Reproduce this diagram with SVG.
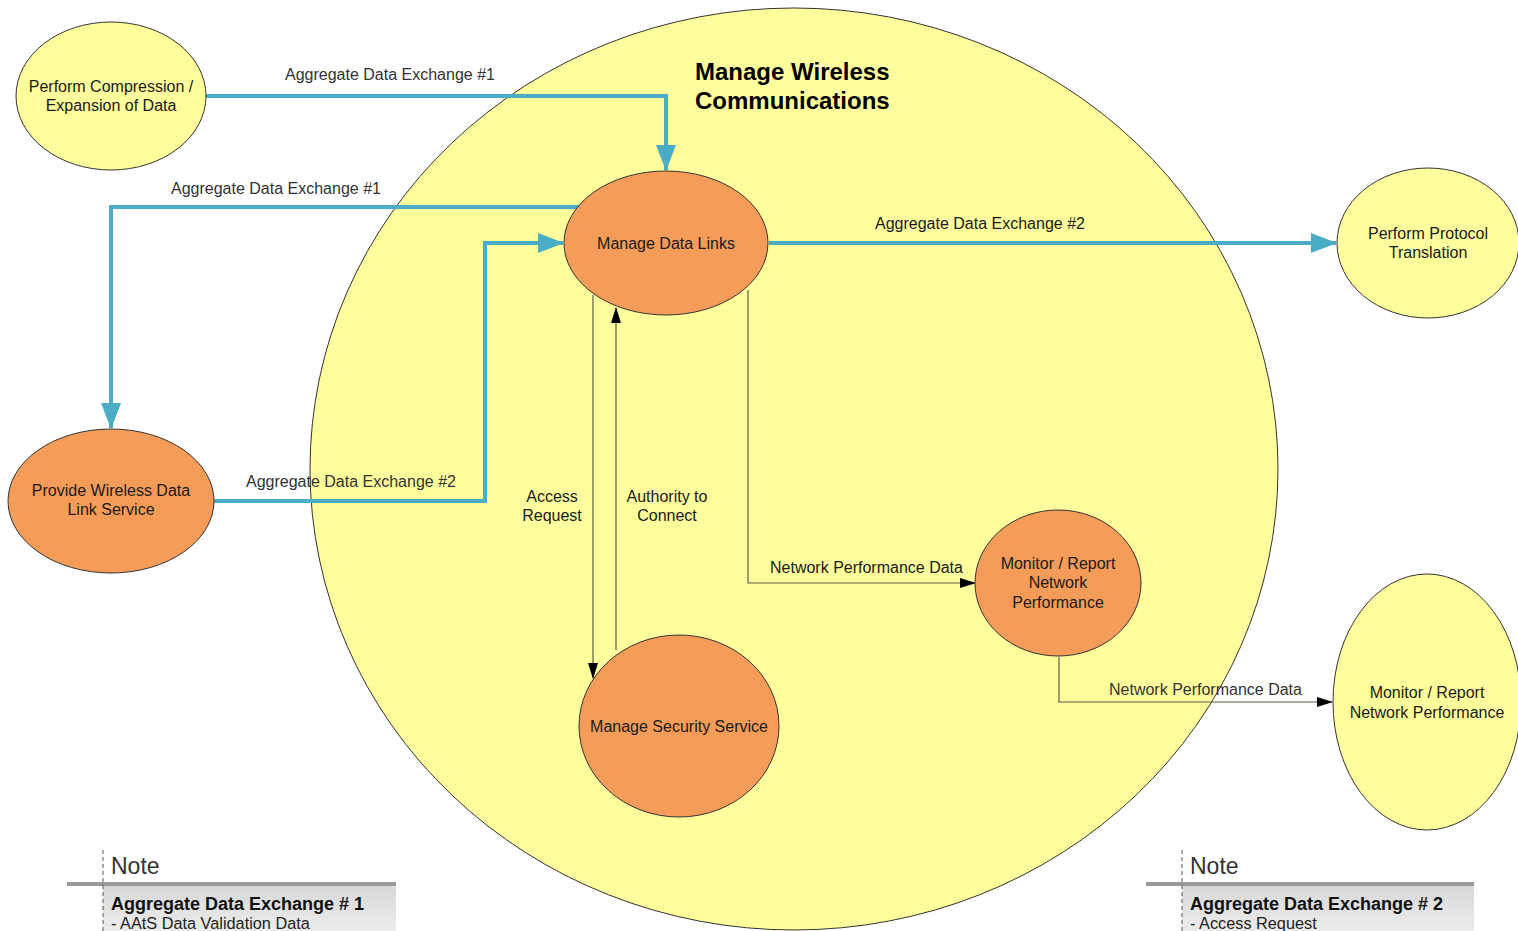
<svg xmlns="http://www.w3.org/2000/svg" width="1518" height="931" viewBox="0 0 1518 931">
<style>
text{font-family:"Liberation Sans",Arial,sans-serif;fill:#1a1a1a}
.y{fill:#FFFE9C;stroke:#333;stroke-width:1}
.o{fill:#F59C59;stroke:#333;stroke-width:1}
.n{font-size:16px;text-anchor:middle}
.lbl{font-size:16px;fill:#333}
.lbl2{font-size:16px}
.blue{fill:none;stroke:#4BACC6;stroke-width:4}
.thin{fill:none;stroke:#5c5c4a;stroke-width:1.2}
.title{font-size:24px;font-weight:bold;fill:#000}
</style>
<defs>
<marker id="ab" markerUnits="userSpaceOnUse" markerWidth="26" markerHeight="20" refX="25" refY="10" orient="auto"><path d="M0,0 L26,10 L0,20 Z" fill="#4BACC6"/></marker>
<marker id="ak" markerUnits="userSpaceOnUse" markerWidth="16" markerHeight="10" refX="15" refY="5" orient="auto"><path d="M0,0 L16,5 L0,10 Z" fill="#000"/></marker>
<linearGradient id="ng" x1="0" y1="0" x2="0" y2="1"><stop offset="0" stop-color="#d8d8d8"/><stop offset="1" stop-color="#ececec"/></linearGradient>
</defs>
<rect width="1518" height="931" fill="#fff"/>
<g id="mwc">
<ellipse class="y" cx="794" cy="469" rx="484" ry="461"/>
<text class="title" x="695" y="80">Manage Wireless</text>
<text class="title" x="695" y="109">Communications</text>
</g>
<g id="connectors">
<polyline class="blue" points="206,96 666,96 666,170" marker-end="url(#ab)"/>
<text class="lbl" x="285" y="80">Aggregate Data Exchange #1</text>
<polyline class="blue" points="581,207 111,207 111,428" marker-end="url(#ab)"/>
<text class="lbl" x="171" y="194">Aggregate Data Exchange #1</text>
<polyline class="blue" points="214,501 485,501 485,243 563,243" marker-end="url(#ab)"/>
<text class="lbl" x="246" y="487">Aggregate Data Exchange #2</text>
<polyline class="blue" points="769,243 1336,243" marker-end="url(#ab)"/>
<text class="lbl2" x="875" y="229">Aggregate Data Exchange #2</text>
<polyline class="thin" points="593,295 593,678" marker-end="url(#ak)"/>
<text class="n" x="552" y="502">Access</text>
<text class="n" x="552" y="521">Request</text>
<polyline class="thin" points="616,650 616,308" marker-end="url(#ak)"/>
<text class="n" x="667" y="502">Authority to</text>
<text class="n" x="667" y="521">Connect</text>
<polyline class="thin" points="748,290 748,583 975,583" marker-end="url(#ak)"/>
<text class="lbl2" x="770" y="573">Network Performance Data</text>
<polyline class="thin" points="1059,657 1059,702 1332,702" marker-end="url(#ak)"/>
<text class="lbl" x="1109" y="695">Network Performance Data</text>
</g>
<g id="compression">
<ellipse class="y" cx="111" cy="96" rx="95" ry="74"/>
<text class="n" x="111" y="92">Perform Compression /</text>
<text class="n" x="111" y="111">Expansion of Data</text>
</g>
<g id="datalinks">
<ellipse class="o" cx="666" cy="243" rx="102" ry="72"/>
<text class="n" x="666" y="249">Manage Data Links</text>
</g>
<g id="protocol">
<ellipse class="y" cx="1428" cy="243" rx="91" ry="75"/>
<text class="n" x="1428" y="239">Perform Protocol</text>
<text class="n" x="1428" y="258">Translation</text>
</g>
<g id="wireless">
<ellipse class="o" cx="111" cy="501" rx="103" ry="72"/>
<text class="n" x="111" y="496">Provide Wireless Data</text>
<text class="n" x="111" y="515">Link Service</text>
</g>
<g id="monitor1">
<ellipse class="o" cx="1058" cy="583" rx="83" ry="73"/>
<text class="n" x="1058" y="569">Monitor / Report</text>
<text class="n" x="1058" y="588">Network</text>
<text class="n" x="1058" y="608">Performance</text>
</g>
<g id="security">
<ellipse class="o" cx="679" cy="726" rx="100" ry="91"/>
<text class="n" x="679" y="732">Manage Security Service</text>
</g>
<g id="monitor2">
<ellipse class="y" cx="1427" cy="702" rx="94" ry="128"/>
<text class="n" x="1427" y="698">Monitor / Report</text>
<text class="n" x="1427" y="718">Network Performance</text>
</g>
<g id="note1">
<rect x="103" y="886" width="293" height="45" fill="url(#ng)"/>
<rect x="67" y="882" width="329" height="4" fill="#999"/>
<line x1="103" y1="850" x2="103" y2="931" stroke="#555" stroke-width="1" stroke-dasharray="4,3"/>
<text x="111" y="874" style="font-size:23px;fill:#333">Note</text>
<text x="111" y="910" style="font-size:18px;font-weight:bold;fill:#111">Aggregate Data Exchange # 1</text>
<text x="111" y="929" style="font-size:16.3px;fill:#222">- AAtS Data Validation Data</text>
</g>
<g id="note2">
<rect x="1182" y="886" width="292" height="45" fill="url(#ng)"/>
<rect x="1146" y="882" width="328" height="4" fill="#999"/>
<line x1="1182" y1="850" x2="1182" y2="931" stroke="#555" stroke-width="1" stroke-dasharray="4,3"/>
<text x="1190" y="874" style="font-size:23px;fill:#333">Note</text>
<text x="1190" y="910" style="font-size:18px;font-weight:bold;fill:#111">Aggregate Data Exchange # 2</text>
<text x="1190" y="929" style="font-size:16.3px;fill:#222">- Access Request</text>
</g>
</svg>
